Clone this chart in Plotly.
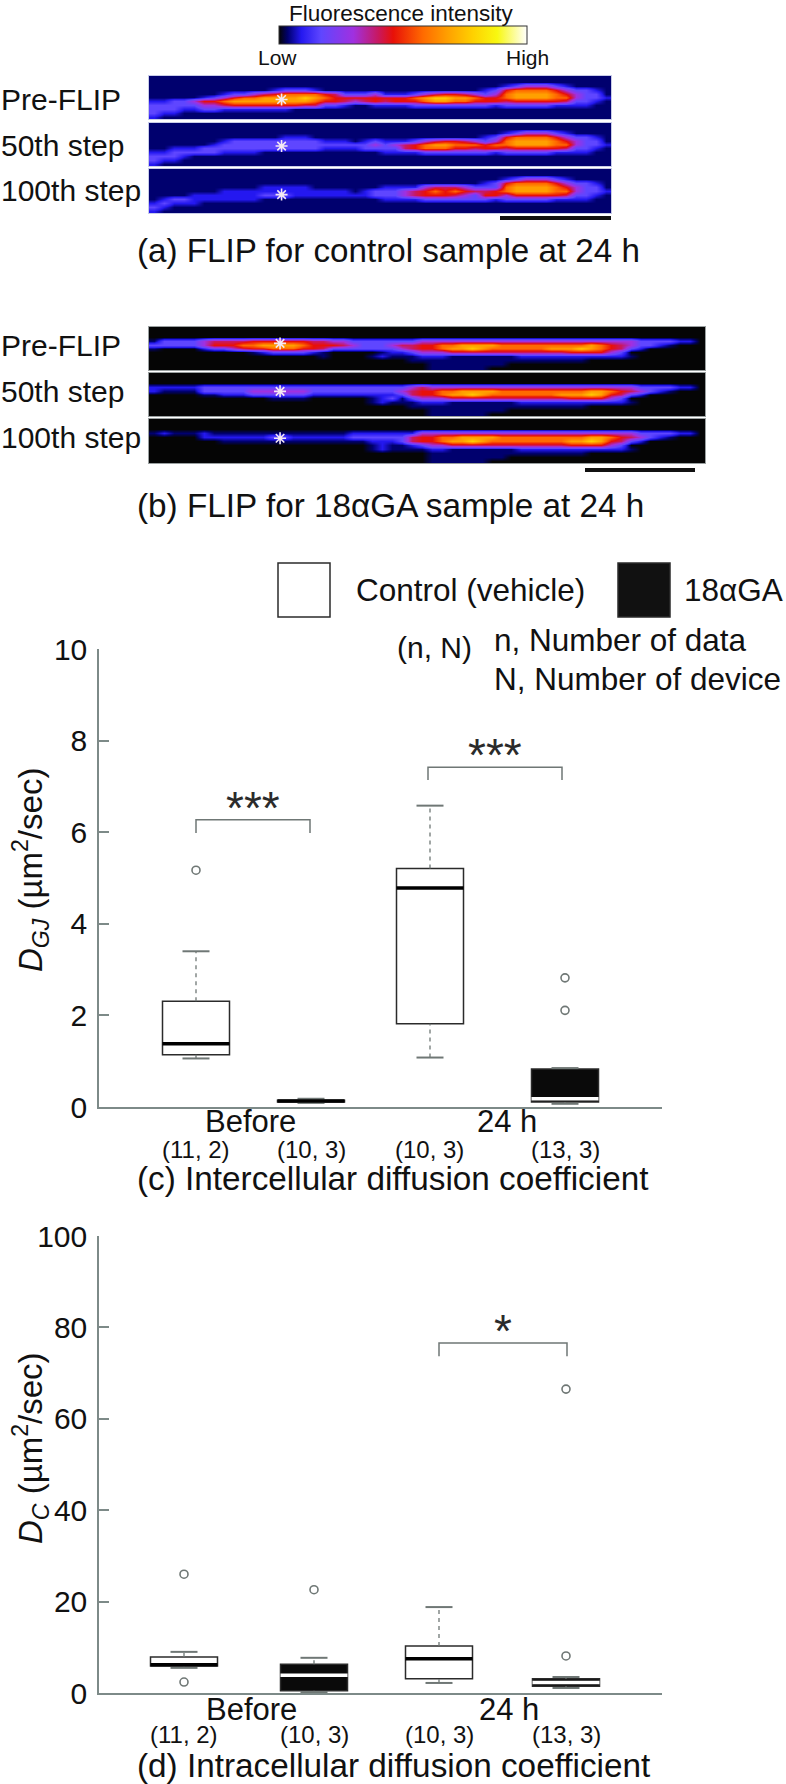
import plotly.graph_objects as go

WIDTH = 786
HEIGHT = 1784
FONT = "Liberation Sans"
DARK = "#2b2b2b"
GREY = "#6f7775"
AXIS_GREY = "#7d8a88"

# colour ramp of the fluorescence scale, low to high
RAMP = [
    [0.00, "#050505"], [0.035, "#00006e"], [0.09, "#2418f0"], [0.17, "#5f46ff"],
    [0.30, "#a030e0"], [0.40, "#c81860"], [0.46, "#e81008"], [0.58, "#ff6a00"],
    [0.68, "#ffa000"], [0.78, "#ffd000"], [0.88, "#f8f810"], [1.00, "#ffffff"],
]
LEVELS = [0.0, 0.035, 0.09, 0.17, 0.30, 0.40, 0.46, 0.58, 0.68, 0.78]

# intensity, one digit per 10 px, one row per 4 px
A_PRE = [
    "11111111111111111111111 11111111111111111111111",
    "11111111111111111111111 11111111111111111111111",
    "11111111111111111111111 11111111111123444321111",
    "11111111111123332111111 11111111112367777643321",
    "11111112334567777653334 22234566543478888764331",
    "11111234677888898766666 66678998876678888774332",
    "22334667888888887665456 56667887766656666653321",
    "33333445666666655332112 22233333333233333222211",
    "33322332222222111111111 11111111111111111111111",
    "32211111111111111111111 11111111111111111111111",
    "21111111111111111111111 11111111111111111111111",
]
A_50 = [
    "11111111111111111111111 11111111111111111111111",
    "11111111111111111111111 11111111111111111111111",
    "11111111111111111111111 11111111111123444321111",
    "11111111111112221111111 11111111112367777643321",
    "11111112333333333222123 22234566543478888764331",
    "11111123333333333333334 34567887776778888774332",
    "11222333333333333222233 33567776656656666653321",
    "22333332222111111111111 22223333333233333222211",
    "33321111111111111111111 11111111111111111111111",
    "32211111111111111111111 11111111111111111111111",
    "21111111111111111111111 11111111111111111111111",
]
A_100 = [
    "11111111111111111111111 11111111111111111111111",
    "11111111111111111111111 11111111111111111111111",
    "11111111111111111111111 11111111111123444321111",
    "11111111111111111111111 11111111112367777643321",
    "11111111111222221111111 22224555433378888764331",
    "11111112222222222222123 33456767655678888774332",
    "11112222222333222222223 33456665436646666653321",
    "12332222222111111111111 22223333333233333222211",
    "23222111111111111111111 11111111111111111111111",
    "32111111111111111111111 11111111111111111111111",
    "21111111111111111111111 11111111111111111111111",
]
B_PRE = [
    "0000000000000000000000000000 0000000000000000000000000000",
    "0000000000000000000000000000 0000000000000000000000000000",
    "0000000000000000000000000000 0000000000000000000000000000",
    "1333345555666666554433333334 4444444444444444444443333220",
    "3333346667788887666543334556 6778888777777777876543321000",
    "1000023345667776653333333456 6788987777778889876532000000",
    "0000000000123333210000012234 4455555555555566664300000000",
    "0000000000000000010000121112 2211111112222222222210000000",
    "0000000000000000000000000011 1111111111111111000000000000",
    "0000000000000000000000000000 1111111100000000000000000000",
    "0000000000000000000000000000 1111110000000000000000000000",
]
B_50 = [
    "0000000000000000000000000000 0000000000000000000000000000",
    "0000000000000000000000000000 0000000000000000000000000000",
    "0000000000000000000000000000 0000000000000000000000000000",
    "2222233333333333333333333345 4444444444444444444443333220",
    "2111133333444444333333333456 6778888777777777887654321000",
    "0000011222333333222222222356 6788987777777888986532000000",
    "0000000000001111000000123134 4455555555555566664300000000",
    "0000000000000000000000121112 2211111112222222222210000000",
    "0000000000000000000000000011 1111111111111111000000000000",
    "0000000000000000000000000000 1111111100000000000000000000",
    "0000000000000000000000000000 1111110000000000000000000000",
]
B_100 = [
    "0000000000000000000000000000 0000000000000000000000000000",
    "0000000000000000000000000000 0000000000000000000000000000",
    "0000000000000000000000000000 0000000000000000000000000000",
    "1211121111111111111122222224 4444444444444444444443333220",
    "0000022222223322222233333356 6778888777777777887654321000",
    "0000000111111111111111222356 6788987777777788986532000000",
    "0000000000000000000000121123 4455555555555566664300000000",
    "0000000000000000000000121111 2211111112222222222210000000",
    "0000000000000000000000000000 1111111111111111000000000000",
    "0000000000000000000000000000 1111111100000000000000000000",
    "0000000000000000000000000000 1111110000000000000000000000",
]
PANELS = [A_PRE, A_50, A_100, B_PRE, B_50, B_100]
PANEL_LABELS = ["Pre-FLIP", "50th step", "100th step"] * 2
STAR_ROWS = [5.5, 5.4, 5.9, 3.7, 4.2, 4.3]
STAR_COLS = [12.7, 12.7, 12.7, 12.7, 12.7, 12.7]

# box statistics, in order control / 18aGA / control / 18aGA
GROUPS = ["Before", "24 h"]
N_LABELS = ["(11, 2)", "(10, 3)", "(10, 3)", "(13, 3)"]

DGJ_LOW = [1.06, 0.09, 1.08, 0.07]
DGJ_Q1 = [1.14, 0.11, 1.82, 0.11]
DGJ_MED = [1.38, 0.13, 4.78, 0.18]
DGJ_Q3 = [2.31, 0.15, 5.21, 0.83]
DGJ_HIGH = [3.40, 0.18, 6.58, 0.85]
DGJ_OUT_BOX = [0, 3, 3]
DGJ_OUT_VAL = [5.17, 2.82, 2.11]
DGJ_TICKS = [0, 2, 4, 6, 8, 10]

DC_LOW = [5.5, 0.2, 2.2, 1.1]
DC_Q1 = [5.9, 0.5, 3.1, 1.5]
DC_MED = [6.2, 3.9, 7.5, 2.3]
DC_Q3 = [7.9, 6.3, 10.3, 3.1]
DC_HIGH = [9.0, 7.7, 18.8, 3.5]
DC_OUT_BOX = [0, 0, 1, 3, 3]
DC_OUT_VAL = [26.0, 2.4, 22.6, 66.5, 8.1]
DC_TICKS = [0, 20, 40, 60, 80, 100]

BOX_FILL = ["white", "#0a0a0a", "white", "#0a0a0a"]
DGJ_MED_COLOR = ["#000000", "#000000", "#000000", "white"]
DC_MED_COLOR = ["#000000", "white", "#000000", "white"]

# box centres along each chart, in px of the page
DGJ_POS = [196, 311, 430, 565]
DC_POS = [184, 314, 439, 566]
BOX_WIDTH = 67
CAP_WIDTH = 27

# significance brackets: left, right, top, foot
DGJ_BRACKETS = [(196, 310, 6.27, 5.98, "***"), (428, 562, 7.42, 7.14, "***")]
DC_BRACKETS = [(439, 567, 76.6, 73.7, "*")]


def px_x(x):
    return x / WIDTH


def px_y(y):
    return 1 - y / HEIGHT


def parse_panel(rows):
    return [[LEVELS[int(ch)] for ch in row if ch != " "] for row in rows]


def label(fig, x, y, text, size, anchor="center", **kw):
    fig.add_annotation(
        x=px_x(x), y=px_y(y), xref="paper", yref="paper", text=text,
        showarrow=False, xanchor=anchor, yanchor="middle",
        font=dict(family=FONT, size=size, color="#111111"), **kw,
    )


def draw_boxes(fig, n, pos, low, q1, med, q3, high, med_color, out_box, out_val):
    xa, ya = f"x{n}", f"y{n}"
    fig.add_trace(go.Bar(
        x=pos, y=[b - a for a, b in zip(q1, q3)], base=q1, width=BOX_WIDTH,
        marker=dict(color=BOX_FILL, line=dict(color=DARK, width=1.5)),
        xaxis=xa, yaxis=ya, showlegend=False,
    ))
    for i, p in enumerate(pos):
        # whiskers
        for a, b in ((q3[i], high[i]), (low[i], q1[i])):
            fig.add_trace(go.Scatter(
                x=[p, p], y=[a, b], mode="lines", xaxis=xa, yaxis=ya, showlegend=False,
                line=dict(color=GREY, width=1.3, dash="4px,4px"),
            ))
        for v in (low[i], high[i]):
            fig.add_trace(go.Scatter(
                x=[p - CAP_WIDTH / 2, p + CAP_WIDTH / 2], y=[v, v], mode="lines",
                xaxis=xa, yaxis=ya, showlegend=False, line=dict(color=GREY, width=2),
            ))
        fig.add_trace(go.Scatter(
            x=[p - BOX_WIDTH / 2, p + BOX_WIDTH / 2], y=[med[i], med[i]], mode="lines",
            xaxis=xa, yaxis=ya, showlegend=False, line=dict(color=med_color[i], width=3.5),
        ))
    fig.add_trace(go.Scatter(
        x=[pos[i] for i in out_box], y=out_val, mode="markers", xaxis=xa, yaxis=ya,
        showlegend=False,
        marker=dict(symbol="circle-open", size=8, line=dict(color=GREY, width=1.6), color=GREY),
    ))


def draw_brackets(fig, n, brackets):
    for left, right, top, foot, stars in brackets:
        fig.add_trace(go.Scatter(
            x=[left, left, right, right], y=[foot, top, top, foot], mode="lines",
            xaxis=f"x{n}", yaxis=f"y{n}", showlegend=False,
            line=dict(color=GREY, width=1.5),
        ))
        fig.add_annotation(
            x=(left + right) / 2, y=top, xref=f"x{n}", yref=f"y{n}", text=stars,
            showarrow=False, xanchor="center", yanchor="bottom", yshift=-16,
            font=dict(family=FONT, size=46, color=DARK),
        )


fig = go.Figure()

layout = {}
# image strips: (left, right, top, bottom) of each one on the page
STRIPS = [
    (149, 611, 76, 119), (149, 611, 123, 166), (149, 611, 169, 213),
    (149, 705, 327, 370), (149, 705, 373, 416), (149, 705, 419, 463),
]
for i, (rows, strip) in enumerate(zip(PANELS, STRIPS), start=1):
    z = parse_panel(rows)
    fig.add_trace(go.Heatmap(
        z=z, coloraxis="coloraxis", zsmooth="best", xaxis=f"x{i}", yaxis=f"y{i}",
        hoverinfo="skip",
    ))
    fig.add_trace(go.Scatter(
        x=[STAR_COLS[i - 1]], y=[STAR_ROWS[i - 1]], mode="markers", xaxis=f"x{i}", yaxis=f"y{i}",
        showlegend=False,
        marker=dict(symbol="asterisk-open", size=10, color="#f4e8f4",
                    line=dict(color="#f4e8f4", width=1.6)),
    ))
    left, right, top, bottom = strip
    frame = "#9aa0a0" if i > 3 else "#c8cce8"
    layout[f"xaxis{i}"] = dict(
        domain=[px_x(left), px_x(right)], range=[-0.5, len(z[0]) - 0.5], visible=True,
        showticklabels=False, ticks="", showgrid=False, zeroline=False,
        showline=True, mirror=True, linecolor=frame, linewidth=1, anchor=f"y{i}",
    )
    layout[f"yaxis{i}"] = dict(
        domain=[px_y(bottom), px_y(top)], range=[len(z) - 0.5, -0.5], visible=True,
        showticklabels=False, ticks="", showgrid=False, zeroline=False,
        showline=True, mirror=True, linecolor=frame, linewidth=1, anchor=f"x{i}",
    )

draw_boxes(fig, 7, DGJ_POS, DGJ_LOW, DGJ_Q1, DGJ_MED, DGJ_Q3, DGJ_HIGH, DGJ_MED_COLOR,
           DGJ_OUT_BOX, DGJ_OUT_VAL)
draw_brackets(fig, 7, DGJ_BRACKETS)
draw_boxes(fig, 8, DC_POS, DC_LOW, DC_Q1, DC_MED, DC_Q3, DC_HIGH, DC_MED_COLOR,
           DC_OUT_BOX, DC_OUT_VAL)
draw_brackets(fig, 8, DC_BRACKETS)


def chart_axes(n, top, bottom, y_max, ticks):
    layout[f"xaxis{n}"] = dict(
        domain=[px_x(99), px_x(662)], range=[99, 662], anchor=f"y{n}", showgrid=False,
        zeroline=False, showticklabels=False, ticks="", showline=True,
        linecolor=AXIS_GREY, linewidth=2,
    )
    layout[f"yaxis{n}"] = dict(
        domain=[px_y(bottom), px_y(top)], range=[0, y_max], anchor=f"x{n}", showgrid=False,
        zeroline=False, tickvals=ticks, ticks="inside", ticklen=10, tickcolor=AXIS_GREY,
        tickwidth=1.5, showline=True, linecolor=AXIS_GREY, linewidth=1.5,
        tickfont=dict(family=FONT, size=30, color="#111111"), ticklabelstandoff=4,
    )


chart_axes(7, 649, 1107, 10, DGJ_TICKS)
chart_axes(8, 1236, 1693, 100, DC_TICKS)

# panel texts
for text, y in zip(PANEL_LABELS[:3], [99, 145, 191]):
    label(fig, -1, y, text, 30, anchor="left")
for text, y in zip(PANEL_LABELS[3:], [345, 392, 437]):
    label(fig, -1, y, text, 30, anchor="left")
label(fig, 135, 250, "(a) FLIP for control sample at 24 h", 33.2, anchor="left")
label(fig, 135, 505, "(b) FLIP for 18αGA sample at 24 h", 33.3, anchor="left")
label(fig, 135, 1178, "(c) Intercellular diffusion coefficient", 33.3, anchor="left")
label(fig, 135, 1765, "(d) Intracellular diffusion coefficient", 33.3, anchor="left")

# legend block
label(fig, 354, 590, "Control (vehicle)", 31.5, anchor="left")
label(fig, 682, 590, "18αGA", 31.5, anchor="left")
label(fig, 395, 647, "(n, N)", 30, anchor="left")
label(fig, 492, 640, "n, Number of data", 31.5, anchor="left")
label(fig, 492, 679, "N, Number of device", 31.5, anchor="left")

for x, y, t in zip([250, 507], [1121, 1121], GROUPS):
    label(fig, x, y, t, 31)
for x, t in zip(DGJ_POS, N_LABELS):
    label(fig, x, 1149, t, 24)
for x, y, t in zip([251, 509], [1709, 1709], GROUPS):
    label(fig, x, y, t, 31)
for x, t in zip(DC_POS, N_LABELS):
    label(fig, x, 1734, t, 24)

label(fig, 30, 870, "<i>D<sub>GJ</sub></i> (µm<sup>2</sup>/sec)", 33, textangle=-90)
label(fig, 30, 1448, "<i>D<sub>C</sub></i> (µm<sup>2</sup>/sec)", 33, textangle=-90)
label(fig, 402, 13, "Fluorescence intensity", 22.5)
label(fig, 277, 57, "Low", 21)
label(fig, 527, 57, "High", 21)

shapes = [
    dict(type="rect", xref="paper", yref="paper", x0=px_x(500), x1=px_x(611),
         y0=px_y(216), y1=px_y(220), fillcolor="#111111", line_width=0),
    dict(type="rect", xref="paper", yref="paper", x0=px_x(585), x1=px_x(695),
         y0=px_y(468), y1=px_y(472), fillcolor="#111111", line_width=0),
    dict(type="rect", xref="paper", yref="paper", x0=px_x(278), x1=px_x(330),
         y0=px_y(563), y1=px_y(617), fillcolor="white", line=dict(color=DARK, width=1.5)),
    dict(type="rect", xref="paper", yref="paper", x0=px_x(618), x1=px_x(670),
         y0=px_y(563), y1=px_y(617), fillcolor="#111111", line=dict(color=DARK, width=1.5)),
]

fig.update_layout(
    width=WIDTH, height=HEIGHT, margin=dict(l=0, r=0, t=0, b=0, autoexpand=False),
    paper_bgcolor="white", plot_bgcolor="white", showlegend=False, shapes=shapes,
    font=dict(family=FONT),
    coloraxis=dict(
        colorscale=RAMP, cmin=0, cmax=1,
        colorbar=dict(
            orientation="h", x=px_x(279), xanchor="left", y=px_y(45), yanchor="bottom",
            len=248, lenmode="pixels", thickness=18, thicknessmode="pixels",
            xpad=0, ypad=0, outlinecolor="#333333", outlinewidth=1,
            showticklabels=False, ticks="",
        ),
    ),
    **layout,
)

fig.write_html("out.html", config={"displayModeBar": False},
               post_script="document.body.style.margin='0'")
